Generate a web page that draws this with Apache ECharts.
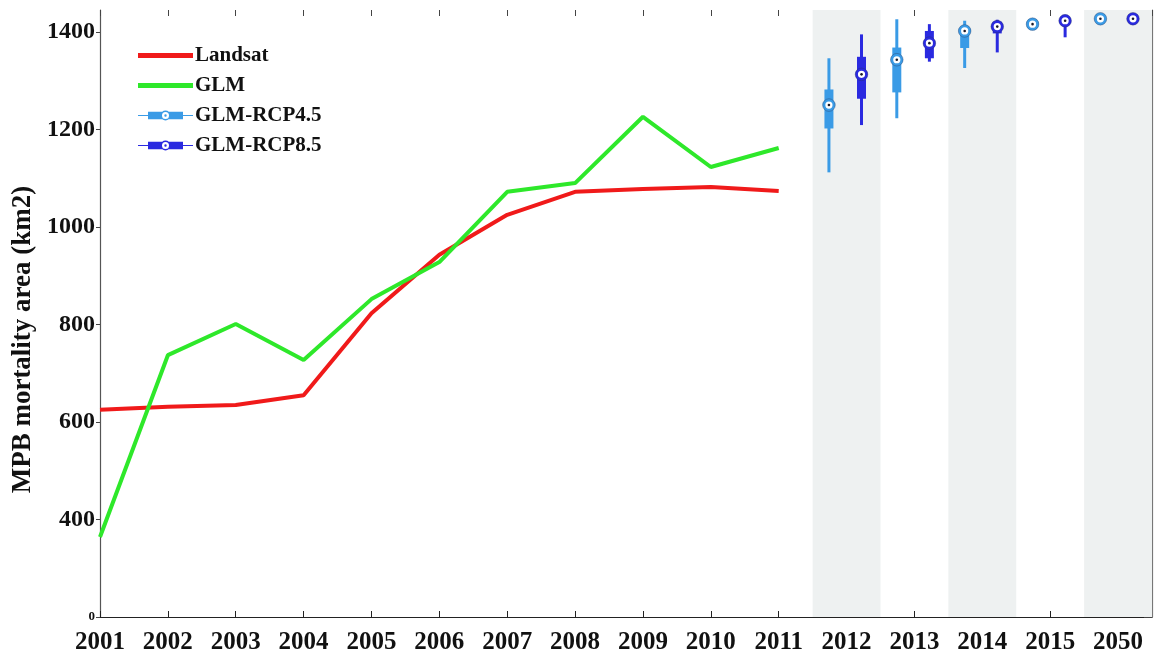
<!DOCTYPE html>
<html>
<head>
<meta charset="utf-8">
<script src="https://cdn.jsdelivr.net/npm/echarts@6/dist/echarts.min.js"></script>
<style>
  html, body { margin: 0; padding: 0; background: #ffffff; }
  #chart { width: 1154px; height: 659px; }
</style>
</head>
<body>
<div id="chart"></div>
<script>
// Year labels along the x axis (observed years, then projection years)
const years = ['2001', '2002', '2003', '2004', '2005', '2006', '2007', '2008', '2009', '2010',
               '2011', '2012', '2013', '2014', '2015', '2050'];
const observedYears = ['2001', '2002', '2003', '2004', '2005', '2006', '2007', '2008', '2009', '2010', '2011'];

// MPB mortality area (km2)
const landsat = [625, 631, 635, 655, 823, 943, 1025, 1072, 1078, 1082, 1074];
const glm = [364, 737, 801, 727, 852, 928, 1072, 1090, 1226, 1123, 1162];

// Projections: [min, q1, median, q3, max]
const projYears = ['2012', '2013', '2014', '2015', '2050'];
const rcp45 = [
  [1112, 1202, 1250, 1282, 1346],
  [1223, 1276, 1343, 1368, 1426],
  [1326, 1367, 1402, 1411, 1423],
  [1411, 1413, 1416, 1419, 1421],
  [1424, 1425, 1427, 1429, 1430]
];
const rcp85 = [
  [1209, 1263, 1313, 1349, 1395],
  [1339, 1346, 1377, 1402, 1416],
  [1358, 1397, 1411, 1421, 1425],
  [1389, 1416, 1423, 1428, 1431],
  [1424, 1425, 1427, 1429, 1430]
];

// Shaded projection years
const shadedYears = ['2012', '2014', '2050'];

// y-axis ticks
const yTicks = [200, 400, 600, 800, 1000, 1200, 1400];
const yTickText = ['0', '400', '600', '800', '1000', '1200', '1400'];

const SERIF = '"Liberation Serif", "Times New Roman", serif';
const C45 = '#3a9be6';
const C85 = '#2a2ae0';

const obsPoints = (vals) => vals.map((v, i) => [years.indexOf(observedYears[i]), v]);
const boxPoints = (rows, shift) =>
  rows.map((r, i) => [years.indexOf(projYears[i]) + shift].concat(r));

function renderBox(params, api) {
  const x = api.value(0);
  const lo = api.coord([x, api.value(1)]);
  const q1 = api.coord([x, api.value(2)]);
  const md = api.coord([x, api.value(3)]);
  const q3 = api.coord([x, api.value(4)]);
  const hi = api.coord([x, api.value(5)]);
  const color = api.visual('color');
  return {
    type: 'group',
    children: [
      { type: 'line', shape: { x1: lo[0], y1: lo[1], x2: hi[0], y2: hi[1] },
        style: { stroke: color, lineWidth: 3 } },
      { type: 'rect', shape: { x: q3[0] - 4.5, y: q3[1], width: 9, height: Math.max(q1[1] - q3[1], 1) },
        style: { fill: color } },
      { type: 'circle', shape: { cx: md[0], cy: md[1], r: 5 },
        style: { fill: '#ffffff', stroke: color, lineWidth: 2.8 } },
      { type: 'circle', shape: { cx: md[0], cy: md[1], r: 6.3 },
        style: { fill: 'none', stroke: 'rgba(40,50,90,0.45)', lineWidth: 0.8 } },
      { type: 'circle', shape: { cx: md[0], cy: md[1], r: 1.3 },
        style: { fill: '#1a1a2a' } }
    ]
  };
}

// Legend icons: a thick line, and a whisker/box/median glyph
const lineIcon = 'path://M0 0h0.05v0.05h-0.05Z M54.95 9.95h0.05v0.05h-0.05Z M0 2.6H55V7.4H0Z';
const hole = 'M24 5a3.5 3.5 0 1 0 7 0a3.5 3.5 0 1 0 -7 0Z ';
const boxIcon = 'path://M0 4.5H10V5.5H0Z M45 4.5H55V5.5H45Z ' +
  'M10 1.2H45V8.8H10Z ' +
  'M22.5 5a5 5 0 1 1 10 0a5 5 0 1 1 -10 0Z ' +
  hole + hole +
  'M26.3 5a1.2 1.2 0 1 1 2.4 0a1.2 1.2 0 1 1 -2.4 0Z';

const chart = echarts.init(document.getElementById('chart'), null, { renderer: 'canvas' });

const option = {
  backgroundColor: '#ffffff',
  animation: false,
  grid: { left: 100, right: 2, top: 10, bottom: 42 },
  legend: {
    orient: 'vertical',
    left: 133,
    top: 40,
    itemWidth: 55,
    itemHeight: 10,
    itemGap: 9,
    selectedMode: false,
    textStyle: { fontFamily: SERIF, fontWeight: 'bold', fontSize: 21, color: '#111', padding: [0, 0, 0, -3] },
    data: [
      { name: 'Landsat', icon: lineIcon },
      { name: 'GLM', icon: lineIcon },
      { name: 'GLM-RCP4.5', icon: boxIcon },
      { name: 'GLM-RCP8.5', icon: boxIcon }
    ]
  },
  xAxis: [
    {
      type: 'value',
      min: 0,
      max: 15.5,
      interval: 1,
      position: 'bottom',
      axisLine: { show: true, onZero: false, lineStyle: { color: '#222', width: 1.2 } },
      axisTick: { show: true, inside: true, length: 6, lineStyle: { color: '#222' } },
      splitLine: { show: false },
      axisLabel: {
        margin: 13,
        fontFamily: SERIF, fontWeight: 'bold', fontSize: 25, color: '#111',
        showMaxLabel: false,
        formatter: (v) => (Number.isInteger(v) && years[v] !== undefined ? years[v] : '')
      }
    },
    {
      type: 'value',
      min: 0,
      max: 15.5,
      interval: 1,
      position: 'top',
      axisLine: { show: false },
      axisTick: { show: true, inside: true, length: 6, lineStyle: { color: '#444' } },
      splitLine: { show: false },
      axisLabel: { show: false }
    }
  ],
  yAxis: [
    {
      type: 'value',
      min: 200,
      max: 1445,
      interval: 200,
      position: 'left',
      name: 'MPB mortality area (km2)',
      nameLocation: 'middle',
      nameGap: 62,
      nameTextStyle: { fontFamily: SERIF, fontWeight: 'bold', fontSize: 27, color: '#111', padding: [0, 0, 0, -52] },
      axisLine: { show: true, onZero: false, lineStyle: { color: '#555', width: 1.2 } },
      axisTick: { show: true, inside: false, length: 4, lineStyle: { color: '#444' } },
      splitLine: { show: false },
      axisLabel: {
        margin: 5,
        fontFamily: SERIF, fontWeight: 'bold', fontSize: 24, color: '#111',
        showMaxLabel: false,
        formatter: (v) => {
          const i = yTicks.indexOf(v);
          if (i < 0) return '';
          return i === 0 ? '{s|' + yTickText[i] + '}' : yTickText[i];
        },
        rich: { s: { fontFamily: SERIF, fontWeight: 'bold', fontSize: 13, color: '#111' } }
      }
    },
    {
      type: 'value',
      min: 200,
      max: 1445,
      interval: 200,
      position: 'right',
      axisLine: { show: true, onZero: false, lineStyle: { color: '#777', width: 1.2 } },
      axisTick: { show: true, inside: true, length: 8, lineStyle: { color: '#444' } },
      splitLine: { show: false },
      axisLabel: { show: false }
    }
  ],
  series: [
    {
      name: 'bands',
      type: 'line',
      data: [],
      z: 1,
      silent: true,
      markArea: {
        silent: true,
        itemStyle: { color: '#eef1f1' },
        data: shadedYears.map((y) => {
          const i = years.indexOf(y);
          return [{ xAxis: i - 0.5, yAxis: 200 }, { xAxis: i + 0.5, yAxis: 1445 }];
        })
      }
    },
    {
      name: 'Landsat',
      type: 'line',
      data: obsPoints(landsat),
      symbol: 'none',
      itemStyle: { color: '#f01a1a' },
      lineStyle: { color: '#f01a1a', width: 4 },
      z: 3
    },
    {
      name: 'GLM',
      type: 'line',
      data: obsPoints(glm),
      symbol: 'none',
      itemStyle: { color: '#2ee82a' },
      lineStyle: { color: '#2ee82a', width: 4 },
      z: 4
    },
    {
      name: 'GLM-RCP4.5',
      type: 'custom',
      renderItem: renderBox,
      itemStyle: { color: C45 },
      encode: { x: 0, y: [1, 2, 3, 4, 5] },
      data: boxPoints(rcp45, -0.26),
      z: 5
    },
    {
      name: 'GLM-RCP8.5',
      type: 'custom',
      renderItem: renderBox,
      itemStyle: { color: C85 },
      encode: { x: 0, y: [1, 2, 3, 4, 5] },
      data: boxPoints(rcp85, 0.22),
      z: 5
    }
  ]
};

chart.setOption(option);
</script>
</body>
</html>
